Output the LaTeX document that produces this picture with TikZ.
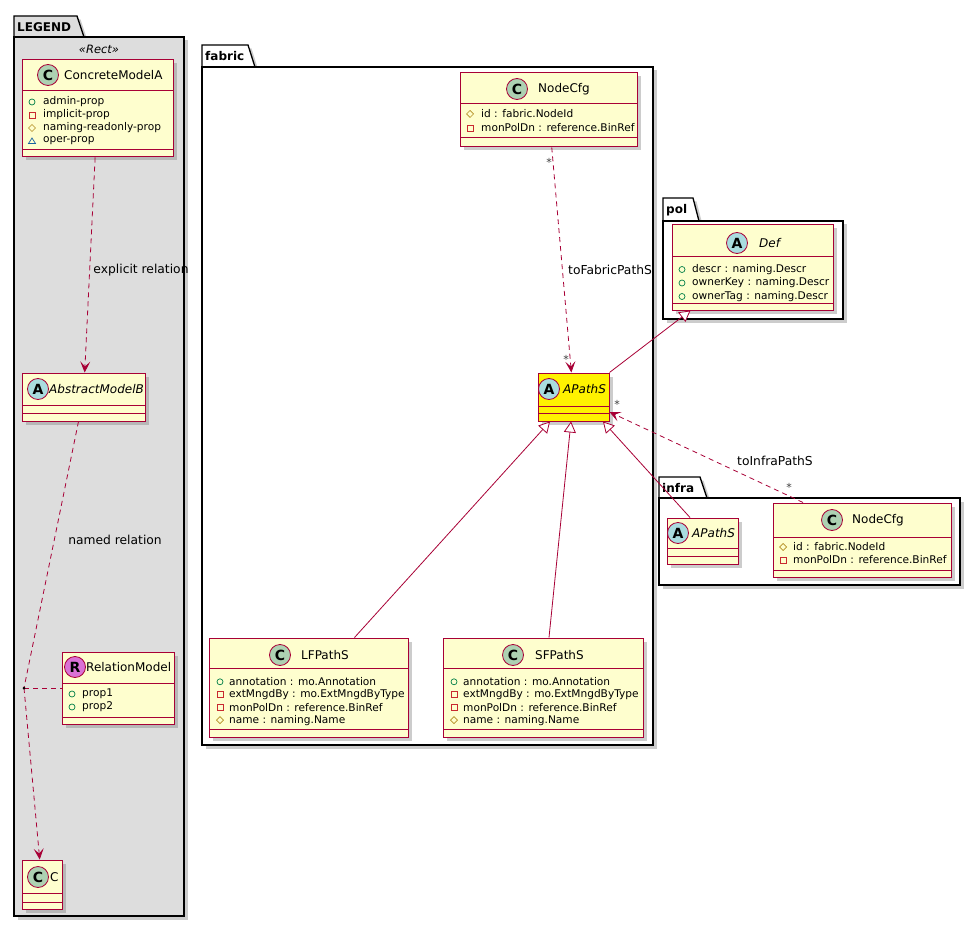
\documentclass[tikz,border=0pt]{standalone}
\usepackage{fontspec}
\setmainfont{DejaVu Sans}
\usetikzlibrary{arrows.meta,shapes,positioning,shadows}

\definecolor{umlred}{HTML}{A80036}
\definecolor{umlfill}{HTML}{FEFECE}
\definecolor{legendgray}{HTML}{DDDDDD}
\definecolor{circgreen}{HTML}{ADD1B2}
\definecolor{circblue}{HTML}{A9DCDF}
\definecolor{circpink}{HTML}{DA70D6}
\definecolor{pubgreen}{HTML}{038048}
\definecolor{privred}{HTML}{C82930}
\definecolor{protgold}{HTML}{B38D22}
\definecolor{pkgblue}{HTML}{1963A0}

\tikzset{
    classbox/.style={draw=umlred, fill=umlfill, line width=1pt, inner sep=0pt,
        drop shadow={shadow xshift=3.5pt, shadow yshift=-3.5pt, opacity=0.4}},
    classline/.style={draw=umlred, line width=1pt},
    circletag/.style={circle, draw=umlred, line width=0.8pt, minimum size=21pt,
        inner sep=0pt, font=\bfseries\fontsize{14}{14}\selectfont},
    cname/.style={anchor=west, inner sep=0pt, font=\fontsize{12}{14}\selectfont},
    cnameit/.style={cname, font=\itshape\fontsize{12}{14}\selectfont},
    attr/.style={anchor=west, inner sep=0pt, font=\fontsize{10.6}{12}\selectfont},
    pkgline/.style={draw=black, line width=1.3pt,
        drop shadow={shadow xshift=3.5pt, shadow yshift=-3.5pt, opacity=0.4}},
    pkgtitle/.style={anchor=west, inner sep=0pt, font=\bfseries\fontsize{12}{14}\selectfont},
    lbl/.style={inner sep=0pt, font=\fontsize{12.3}{14}\selectfont},
    mult/.style={inner sep=0pt, font=\fontsize{11}{13}\selectfont, text=black!75},
    rel/.style={draw=umlred, line width=0.8pt},
    reldash/.style={rel, dash pattern=on 5pt off 4pt},
    dep/.style={reldash, -{Stealth[length=11pt, width=10pt, inset=5pt]}},
    gen/.style={rel, -{Triangle[open, fill=white, length=11pt, width=12pt]}},
    vispub/.pic={\draw[pubgreen, line width=0.7pt] (0,0) circle (3pt);},
    vispriv/.pic={\draw[privred, line width=0.7pt] (-3pt,-3pt) rectangle (3pt,3pt);},
    visprot/.pic={\draw[protgold, line width=0.7pt] (0,3.5pt) -- (3.5pt,0) -- (0,-3.5pt) -- (-3.5pt,0) -- cycle;},
    vispkg/.pic={\draw[pkgblue, line width=0.7pt] (0,3pt) -- (3.5pt,-2.5pt) -- (-3.5pt,-2.5pt) -- cycle;}
}

\begin{document}
\begin{tikzpicture}[x=1pt, y=-1pt]
    \useasboundingbox (0,0) rectangle (980,928);

    % package LEGEND, tab and body
    \draw[pkgline, fill=legendgray] (14,37) -- (14,16) -- (77,16) -- (84,37) -- cycle;
    \draw[pkgline, fill=legendgray] (14,37) rectangle (184,916);
    \node[pkgtitle] (legendtitle) at (17,27) {LEGEND};
    \node[inner sep=0pt, font=\itshape\fontsize{11.5}{13}\selectfont] (rectstereo) at (99,49) {«Rect»};

    % package fabric
    \draw[pkgline, fill=white] (202,67) -- (202,45) -- (248,45) -- (255,67) -- cycle;
    \draw[pkgline, fill=white] (202,67) rectangle (653,745);
    \node[pkgtitle] (fabrictitle) at (205,56) {fabric};

    % package pol
    \draw[pkgline, fill=white] (663,221) -- (663,198) -- (693,198) -- (699,221) -- cycle;
    \draw[pkgline, fill=white] (663,221) rectangle (843,319);
    \node[pkgtitle] (poltitle) at (666,210) {pol};

    % package infra
    \draw[pkgline, fill=white] (659,498) -- (659,477) -- (700,477) -- (707,498) -- cycle;
    \draw[pkgline, fill=white] (659,498) rectangle (960,585);
    \node[pkgtitle] (infratitle) at (662,488) {infra};

    % ConcreteModelA
    \node[classbox, minimum width=151pt, minimum height=97pt] (cma) at (97.5,108.5) {};
    \draw[classline] (22,91) -- (173,91);
    \draw[classline] (22,150) -- (173,150);
    \node[circletag, fill=circgreen] (cmatag) at (48,75) {C};
    \node[cname] (cmaname) at (64,75) {ConcreteModelA};
    \foreach \v/\t [count=\i] in {vispub/admin-prop, vispriv/implicit-prop,
        visprot/naming-readonly-prop, vispkg/oper-prop} {
        \pic at (32,89+13*\i) {\v};
        \node[attr] (cma-\i) at (43,89+13*\i) {\t};
    }

    % AbstractModelB
    \node[classbox, minimum width=123pt, minimum height=48pt] (amb) at (83.5,397) {};
    \draw[classline] (22,405) -- (145,405);
    \draw[classline] (22,413) -- (145,413);
    \node[circletag, fill=circblue] (ambtag) at (38,389) {A};
    \node[cnameit] (ambname) at (49,389) {AbstractModelB};

    % RelationModel
    \node[classbox, minimum width=112pt, minimum height=72pt] (relm) at (118,688) {};
    \draw[classline] (62,683) -- (174,683);
    \draw[classline] (62,717) -- (174,717);
    \node[circletag, fill=circpink] (relmtag) at (75,667) {R};
    \node[cname] (relmname) at (86,667) {RelationModel};
    \foreach \t [count=\i] in {prop1, prop2} {
        \pic at (72,681+13*\i) {vispub};
        \node[attr] (relm-\i) at (82,681+13*\i) {\t};
    }

    % C
    \node[classbox, minimum width=40pt, minimum height=49pt] (cc) at (42,884.5) {};
    \draw[classline] (22,893) -- (62,893);
    \draw[classline] (22,902) -- (62,902);
    \node[circletag, fill=circgreen] (cctag) at (38,877) {C};
    \node[cname] (ccname) at (50,877) {C};

    % fabric NodeCfg
    \node[classbox, minimum width=177pt, minimum height=74pt] (fnc) at (548.5,110) {};
    \draw[classline] (460,104) -- (637,104);
    \draw[classline] (460,138) -- (637,138);
    \node[circletag, fill=circgreen] (fnctag) at (517,89) {C};
    \node[cname] (fncname) at (538,89) {NodeCfg};
    \foreach \v/\t [count=\i] in {visprot/id : fabric.NodeId, vispriv/monPolDn : reference.BinRef} {
        \pic at (470,100+14*\i) {\v};
        \node[attr] (fnc-\i) at (481,100+14*\i) {\t};
    }

    % pol Def
    \node[classbox, minimum width=161pt, minimum height=85pt] (def) at (752.5,267.5) {};
    \draw[classline] (672,257) -- (833,257);
    \draw[classline] (672,303) -- (833,303);
    \node[circletag, fill=circblue] (deftag) at (737,243) {A};
    \node[cnameit] (defname) at (759,243) {Def};
    \foreach \t [count=\i] in {descr : naming.Descr, ownerKey : naming.Descr, ownerTag : naming.Descr} {
        \pic at (682,256+13.5*\i) {vispub};
        \node[attr] (def-\i) at (692,256+13.5*\i) {\t};
    }

    % fabric APathS
    \node[classbox, fill=yellow, minimum width=71pt, minimum height=48pt] (fap) at (573.5,397) {};
    \draw[classline] (538,406) -- (609,406);
    \draw[classline] (538,413) -- (609,413);
    \node[circletag, fill=circblue] (faptag) at (549,389) {A};
    \node[cnameit] (fapname) at (563,389) {APathS};

    % infra APathS
    \node[classbox, minimum width=71pt, minimum height=46pt] (iap) at (702.5,541) {};
    \draw[classline] (667,548) -- (738,548);
    \draw[classline] (667,556) -- (738,556);
    \node[circletag, fill=circblue] (iaptag) at (678,533) {A};
    \node[cnameit] (iapname) at (692,533) {APathS};

    % infra NodeCfg
    \node[classbox, minimum width=178pt, minimum height=74pt] (inc) at (862,540) {};
    \draw[classline] (773,537) -- (951,537);
    \draw[classline] (773,570) -- (951,570);
    \node[circletag, fill=circgreen] (inctag) at (832,520) {C};
    \node[cname] (incname) at (852,520) {NodeCfg};
    \foreach \v/\t [count=\i] in {visprot/id : fabric.NodeId, vispriv/monPolDn : reference.BinRef} {
        \pic at (783,534+13*\i) {\v};
        \node[attr] (inc-\i) at (793,534+13*\i) {\t};
    }

    % LFPathS
    \node[classbox, minimum width=199pt, minimum height=99pt] (lfp) at (308.5,687.5) {};
    \draw[classline] (209,668) -- (408,668);
    \draw[classline] (209,729) -- (408,729);
    \node[circletag, fill=circgreen] (lfptag) at (280,655) {C};
    \node[cname] (lfpname) at (301,655) {LFPathS};
    \foreach \v/\t [count=\i] in {vispub/annotation : mo.Annotation, vispriv/extMngdBy : mo.ExtMngdByType,
        vispriv/monPolDn : reference.BinRef, visprot/name : naming.Name} {
        \pic at (220,669+12.8*\i) {\v};
        \node[attr] (lfp-\i) at (229,669+12.8*\i) {\t};
    }

    % SFPathS
    \node[classbox, minimum width=200pt, minimum height=99pt] (sfp) at (543,687.5) {};
    \draw[classline] (443,668) -- (643,668);
    \draw[classline] (443,729) -- (643,729);
    \node[circletag, fill=circgreen] (sfptag) at (513,655) {C};
    \node[cname] (sfpname) at (535,655) {SFPathS};
    \foreach \v/\t [count=\i] in {vispub/annotation : mo.Annotation, vispriv/extMngdBy : mo.ExtMngdByType,
        vispriv/monPolDn : reference.BinRef, visprot/name : naming.Name} {
        \pic at (454,669+12.8*\i) {\v};
        \node[attr] (sfp-\i) at (463,669+12.8*\i) {\t};
    }

    % explicit relation, ConcreteModelA to AbstractModelB
    \draw[dep] (cma) -- (amb);
    \node[lbl] (explicitlbl) at (141,270) {explicit relation};

    % named relation through the RelationModel point
    \coordinate (reldot) at (24,688);
    \draw[reldash] (amb) -- (reldot);
    \draw[dep] (reldot) -- (cc);
    \draw[reldash] (reldot) -- (relm);
    \fill (reldot) circle (1.5pt);
    \node[lbl] (namedlbl) at (115,540) {named relation};

    % toFabricPathS
    \draw[dep] (fnc) -- (fap);
    \node[lbl, anchor=west] (tofabriclbl) at (568,270) {toFabricPathS};
    \node[mult] (fncmult) at (549,162) {*};
    \node[mult] (fapmult) at (566,359) {*};

    % generalizations to fabric APathS and to Def
    \draw[gen] ([xshift=46pt]lfp.north) -- ([xshift=-23.5pt]fap.south);
    \draw[gen] ([xshift=6pt]sfp.north) -- ([xshift=-2.5pt]fap.south);
    \draw[gen] ([xshift=-12.5pt]iap.north) -- ([xshift=29.5pt]fap.south);
    \draw[gen] (fap.north east) -- ([xshift=19pt]def.south west);

    % toInfraPathS
    \draw[dep] ([xshift=-59pt]inc.north) -- ([yshift=-15pt]fap.east);
    \node[lbl] (toinfralbl) at (775,461) {toInfraPathS};
    \node[mult] (incmult) at (789,487) {*};
    \node[mult] (fapmult2) at (617,404) {*};
\end{tikzpicture}
\end{document}
